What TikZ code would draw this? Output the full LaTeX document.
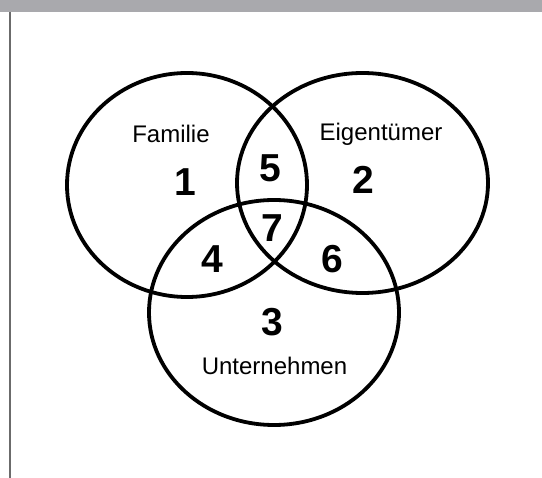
\documentclass[tikz,border=0pt]{standalone}
\usepackage{fontspec}
\setmainfont{Liberation Sans}
\usetikzlibrary{shapes.geometric}
\definecolor{bargray}{HTML}{A9A9AD}
\definecolor{rulegray}{HTML}{6B6B6B}
\tikzset{
  setring/.style={ellipse, draw=black, line width=3.8pt, inner sep=0pt},
  setlabel/.style={font=\fontsize{24}{28}\selectfont, inner sep=0pt},
  regionnum/.style={font=\fontsize{39}{44}\selectfont\bfseries, inner sep=0pt}
}
\begin{document}
\begin{tikzpicture}[x=1pt,y=-1pt]
\useasboundingbox (0,0) rectangle (542,478);
\fill[white] (0,0) rectangle (542,478);
\fill[bargray] (0,0) rectangle (542,12);
\draw[rulegray, line width=2.2pt] (9.7,12) -- (9.7,478);
\node[setring, minimum width=240pt, minimum height=224pt] (fam) at (187,185) {};
\node[setring, minimum width=251pt, minimum height=220pt] (own) at (362.5,183) {};
\node[setring, minimum width=250pt, minimum height=225pt] (firm) at (274,312.5) {};
\node[setlabel] (lfam) at (171,134) {Familie};
\node[setlabel] (lown) at (381,134) {Eigentümer};
\node[setlabel] (lfirm) at (274.5,366) {Unternehmen};
\node[regionnum] (n1) at (185,182) {1};
\node[regionnum] (n2) at (363,180) {2};
\node[regionnum] (n3) at (272,322) {3};
\node[regionnum] (n4) at (212,259) {4};
\node[regionnum] (n5) at (270,168) {5};
\node[regionnum] (n6) at (332,259) {6};
\node[regionnum] (n7) at (272,228) {7};
\end{tikzpicture}
\end{document}
